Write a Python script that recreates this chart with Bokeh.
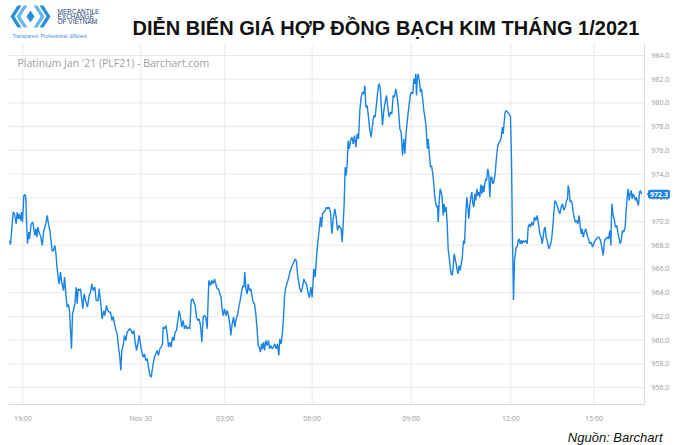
from bokeh.plotting import figure
from bokeh.models import Range1d, FixedTicker, NumeralTickFormatter, Label, PolyAnnotation, LinearAxis
from bokeh.embed import file_html
from bokeh.resources import INLINE

# ---------------- data ----------------
bars = [
    0, 3, 11, 15, 20, 23, 26, 29, 33, 36, 39, 43, 46, 49, 51, 54, 58, 60, 65, 70,
    73, 76, 79, 82, 85, 90, 93, 98, 103, 110, 113, 117, 121, 125, 128, 132, 136, 139, 142, 146,
    149, 153, 156, 159, 162, 165, 169, 173, 177, 180, 183, 186, 189, 193, 196, 200, 203, 206, 210, 213,
    216, 220, 224, 227, 231, 234, 239, 243, 247, 251, 256, 260, 266, 269, 273, 278, 283, 286, 291, 295,
    300,
    303, 307, 311, 315, 319, 323, 327, 331, 334, 337, 341, 345, 349, 353, 357, 361, 365, 369, 373, 377,
    381, 385, 389, 393, 397, 401, 405, 409, 413, 417, 421, 425, 428, 431, 435, 439, 443, 447, 451, 455,
    459, 461, 465, 469, 473, 477, 481, 485, 489, 493, 497, 501, 505, 509, 513, 517, 521, 525, 529, 533,
    537, 541, 545, 549, 553, 557, 561, 565, 569, 573, 577, 581, 585, 589, 593,
    598, 603, 607, 611, 615, 619, 623, 627, 631, 635, 637, 641, 645, 649, 653, 657, 661, 664, 668, 672,
    676, 680, 684, 688, 692, 696, 700, 703, 706, 709, 713, 716, 720, 724, 728, 731, 735, 739, 743, 746,
    749, 753, 756, 759, 762, 765, 769, 773, 777, 780, 784, 788, 792, 796, 800, 804, 808, 811, 815, 819,
    822, 825, 828, 832, 835, 838, 841, 845, 848, 851, 855, 858, 861, 864, 867, 871, 875, 879, 883, 887,
    891, 895, 899,
    900, 904, 908, 911, 913, 917, 921, 925, 929, 933, 936, 939, 943, 947, 951, 955, 959, 963, 967, 971,
    976, 980, 984, 988, 992, 995, 998, 1001, 1004, 1007, 1010, 1013, 1016, 1019, 1023, 1027, 1031, 1035, 1039, 1043,
    1047, 1051, 1055, 1059, 1063, 1066, 1069, 1073, 1077, 1081, 1085, 1089, 1093, 1097, 1101, 1104, 1108, 1112, 1115, 1119,
    1123, 1127, 1131, 1135, 1139, 1143, 1147, 1151, 1155, 1159, 1163, 1167, 1171, 1175, 1179, 1183, 1186, 1190, 1194, 1198,
    1203,
    1207, 1210, 1213, 1216, 1219, 1221, 1223, 1226, 1230, 1233, 1236, 1240, 1243, 1246, 1249, 1252, 1254, 1256, 1259, 1263,
    1266, 1269, 1272, 1275, 1279, 1282, 1284, 1286, 1289, 1292, 1295, 1298, 1301, 1304, 1307, 1310, 1313, 1316, 1319, 1322,
    1325, 1328, 1331, 1334, 1337, 1340, 1343, 1346, 1349, 1352, 1355, 1358, 1362, 1365, 1369, 1372, 1375, 1378, 1381, 1384,
    1387, 1390, 1393, 1396, 1399, 1402, 1405, 1408, 1411, 1414, 1417, 1420, 1423, 1426, 1429, 1431, 1435, 1438, 1441, 1444,
    1447, 1450, 1453, 1457, 1461, 1465, 1469, 1473, 1475, 1479, 1481, 1484, 1487, 1491, 1494, 1498, 1501,
    1503, 1506, 1509, 1512, 1515, 1517, 1520, 1523, 1526, 1529, 1532, 1535, 1538, 1541, 1545, 1549, 1553, 1556, 1560, 1563,
    1567, 1571, 1575, 1579, 1583, 1587, 1591, 1595, 1598, 1601, 1604, 1607, 1610, 1614, 1618, 1622, 1626, 1629, 1633, 1636,
    1639, 1643, 1647, 1651, 1655, 1659, 1663, 1667, 1671, 1674, 1676, 1679, 1682, 1685, 1688, 1691, 1694, 1697, 1701, 1705,
    1709, 1712, 1715, 1718, 1721, 1725, 1729, 1733, 1737, 1741, 1745, 1749, 1753, 1757, 1761, 1765, 1769, 1773, 1777, 1781,
    1785, 1789, 1793, 1797, 1801, 1804, 1807, 1811, 1814, 1818, 1822, 1825, 1829, 1832, 1835, 1839, 1843, 1847, 1850, 1853,
    1856, 1859, 1862, 1865, 1868, 1871, 1875, 1878, 1881, 1884, 1887, 1890, 1893, 1896,
]

prices = [
    968.40, 968.06, 970.79, 970.65, 969.80, 970.79, 970.22, 970.65, 970.08, 970.79, 969.94, 972.19, 972.28, 972.05, 970.08, 968.12, 969.10, 968.54, 969.80, 969.94,
    969.38, 968.82, 969.38, 968.68, 969.52, 968.96, 968.82, 967.98, 969.24, 969.94, 970.51, 969.80, 969.24, 968.26, 967.50, 967.55, 967.98, 967.41, 966.29, 965.31,
    964.74, 965.73, 965.02, 964.60, 964.18, 965.31, 963.90, 962.78, 963.00, 962.49, 960.81, 959.26, 962.21, 962.64, 963.06, 964.46, 963.06, 964.32, 964.18, 964.32,
    963.62, 962.64, 963.90, 963.48, 963.06, 962.78, 963.76, 964.04, 964.74, 964.18, 964.46, 963.34, 963.34, 964.32, 963.34, 961.79, 962.49, 962.07, 962.92, 962.49,
    962.35,
    962.35, 961.65, 961.99, 961.37, 960.81, 960.53, 959.40, 958.56, 957.43, 959.12, 959.54, 960.39, 959.96, 960.67, 960.81, 960.95, 960.81, 960.53, 960.81, 959.82,
    959.12, 959.68, 960.39, 959.68, 958.98, 958.56, 958.84, 958.28, 958.42, 957.71, 957.01, 956.87, 957.43, 957.99, 958.56, 958.84, 959.12, 958.70, 959.26, 959.40,
    959.68, 961.09, 960.95, 961.23, 960.53, 959.40, 959.82, 959.40, 960.25, 959.96, 960.67, 960.81, 961.65, 962.49, 961.93, 961.09, 961.65, 960.95, 961.23, 960.95,
    961.09, 960.95, 963.34, 963.48, 963.20, 962.92, 961.93, 961.65, 961.79, 961.23, 959.82, 961.93, 962.07, 961.93, 960.95,
    965.02, 964.60, 965.02, 964.74, 965.16, 964.74, 964.32, 964.32, 963.90, 963.62, 962.78, 962.07, 962.63, 962.07, 962.49, 962.07, 961.37, 960.39, 961.37, 961.93,
    961.09, 961.79, 962.07, 962.78, 963.34, 964.04, 964.60, 964.46, 965.73, 964.32, 963.90, 964.74, 964.18, 964.32, 963.62, 963.20, 963.06, 962.21, 960.81, 959.54,
    959.40, 958.98, 959.68, 959.26, 959.82, 959.12, 959.96, 959.54, 959.96, 959.26, 959.54, 959.26, 959.40, 959.68, 959.26, 959.68, 958.70, 960.10, 959.68, 960.67,
    961.93, 963.62, 964.32, 964.74, 965.02, 965.30, 965.73, 966.01, 966.29, 966.43, 966.71, 966.85, 966.57, 965.59, 965.02, 964.32, 964.04, 964.46, 965.16, 964.88,
    964.74, 964.04, 963.62,
    963.62, 964.46, 963.62, 965.02, 966.01, 965.30, 966.99, 968.26, 969.24, 970.37, 969.52, 970.65, 970.79, 970.93, 971.21, 971.07, 971.21, 970.79, 968.96, 970.23,
    971.07, 970.37, 969.24, 969.66, 969.52, 969.38, 968.26, 969.80, 971.49, 974.58, 973.88, 974.86, 976.83, 976.13, 976.83, 977.11, 976.55, 977.25, 976.27, 977.39,
    976.97, 979.36, 980.49, 980.91, 980.77, 981.47, 979.64, 979.78, 978.80, 977.67, 977.11, 978.10, 978.94, 978.80, 979.92, 980.77, 981.61, 981.33, 979.92, 978.10,
    979.36, 980.06, 980.63, 979.64, 978.80, 979.22, 979.08, 980.63, 980.49, 981.19, 980.49, 979.50, 977.81, 977.53, 975.57, 976.97, 975.71, 977.53, 978.66, 979.64,
    980.77,
    980.91, 980.77, 982.03, 981.61, 982.45, 980.63, 981.89, 982.45, 981.75, 980.91, 981.19, 980.20, 979.36, 978.80, 978.24, 976.83, 976.13, 976.97, 975.85, 974.58,
    974.72, 974.16, 973.46, 972.33, 971.49, 971.21, 971.35, 969.94, 971.63, 972.76, 972.48, 972.05, 970.51, 971.49, 970.79, 971.21, 969.80, 967.69, 966.99, 966.15,
    965.59, 965.45, 966.15, 967.27, 966.85, 966.43, 965.87, 965.59, 966.29, 965.87, 966.43, 966.85, 968.40, 968.12, 970.65, 972.05, 971.21, 970.23, 971.35, 972.05,
    972.48, 971.49, 971.21, 972.33, 971.77, 972.76, 972.19, 972.48, 972.05, 973.12, 972.33, 973.04, 972.48, 973.18, 973.60, 973.46, 974.44, 973.88, 972.05, 973.74,
    973.74, 973.18, 973.32, 974.02, 975.43, 976.41, 976.69, 976.83, 977.11, 977.96, 977.39, 978.38, 979.22, 979.36, 979.22, 979.08, 978.94,
    978.86, 975.14, 968.40, 963.39, 966.71, 967.13, 967.84, 967.84, 968.40, 968.54, 968.12, 968.40, 968.12, 968.40, 968.26, 968.40, 968.12, 969.52, 969.80, 969.52,
    969.94, 969.66, 970.37, 970.08, 970.51, 969.80, 968.96, 968.68, 968.12, 968.68, 969.38, 969.52, 968.68, 968.26, 967.70, 967.98, 968.40, 969.24, 970.65, 971.77,
    971.63, 971.35, 970.93, 970.65, 971.21, 971.49, 970.93, 971.21, 971.77, 971.91, 973.04, 972.61, 971.63, 971.77, 971.49, 970.79, 970.37, 969.94, 970.08, 969.80,
    970.51, 969.66, 968.96, 969.38, 968.68, 969.10, 969.38, 968.82, 968.54, 968.12, 968.26, 967.84, 968.12, 968.40, 968.54, 968.68, 968.68, 968.40, 967.84, 967.13,
    968.40, 968.54, 968.68, 968.54, 969.24, 967.98, 971.49, 970.51, 970.23, 969.52, 969.66, 969.10, 968.54, 968.12, 968.40, 969.24, 969.10, 969.52, 970.93, 972.05,
    972.75, 971.77, 972.33, 972.61, 971.91, 972.33, 972.05, 971.77, 972.05, 971.63, 971.35, 972.47, 972.61, 972.30,
]

tick_bars = [40, 394, 646, 908, 1205, 1504, 1754]
tick_labels = ["19:00", "Nov 30", "03:00", "06:00", "09:00", "12:00", "15:00"]
price_ticks = [956, 958, 960, 962, 964, 966, 968, 970, 972, 974, 976, 978, 980, 982, 984]
last_price = 972.3

title_text = "DIỄN BIẾN GIÁ HỢP ĐỒNG BẠCH KIM THÁNG 1/2021"
subtitle_text = "Platinum Jan '21 (PLF21) - Barchart.com"
source_text = "Nguồn: Barchart"
logo_lines = ["MERCANTILE", "EXCHANGE", "OF VIETNAM"]
logo_tagline = "Transparent. Professional. Efficient"

# ---------------- layout helpers (page px -> data) ----------------
W, H = 676, 445
PLOT_L, PLOT_R, PLOT_T, PLOT_B = 8, 644, 44, 404


def bx(px):
    return -3 + (px - 8) * 3


def py(ypx):
    return 984 - (ypx - 55) * 28 / 332


BLUE = "#1a84e5"
GREY_TXT = "#9a9a9a"
GRID = "#e8e8e8"
AXIS = "#dcdcdc"

p = figure(width=W, height=H, output_backend="svg", toolbar_location=None,
           x_range=Range1d(bx(0), bx(W)), y_range=Range1d(py(H), py(0)),
           x_axis_location=None, y_axis_location=None, min_border=0)
p.outline_line_color = None
p.background_fill_color = "white"
p.border_fill_color = "white"
p.xgrid.visible = False
p.ygrid.visible = False

# grid lines (limited to the chart area)
p.segment(x0=[bx(PLOT_L)] * len(price_ticks), x1=[bx(PLOT_R)] * len(price_ticks),
          y0=price_ticks, y1=price_ticks, line_color=GRID, line_width=1)
p.segment(x0=tick_bars, x1=tick_bars, y0=[py(PLOT_T)] * len(tick_bars),
          y1=[py(PLOT_B)] * len(tick_bars), line_color=GRID, line_width=1)

p.line(bars, prices, line_color=BLUE, line_width=1.4)

# axes at fixed locations
xt = FixedTicker(ticks=tick_bars)
yt = FixedTicker(ticks=price_ticks)
xax = LinearAxis(ticker=xt, fixed_location=py(PLOT_B), bounds=(bx(PLOT_L), bx(PLOT_R)),
                 major_label_overrides={b: l for b, l in zip(tick_bars, tick_labels)})
yax = LinearAxis(ticker=yt, fixed_location=bx(PLOT_R), bounds=(py(PLOT_B), py(PLOT_T)),
                 formatter=NumeralTickFormatter(format="0.0"))
for ax in (xax, yax):
    ax.axis_line_color = AXIS
    ax.axis_line_width = 1
    ax.major_tick_line_color = None
    ax.minor_tick_line_color = None
    ax.major_tick_out = 0
    ax.major_tick_in = 0
    ax.major_label_text_font = "Open Sans"
    ax.major_label_text_font_size = "7px"
    ax.major_label_text_color = GREY_TXT
yax.major_label_standoff = 7
xax.major_label_standoff = 9
p.add_layout(xax, "below")
p.add_layout(yax, "right")

# texts
p.add_layout(Label(x=bx(132), y=py(27.5), text=title_text, text_font="Liberation Sans",
                   text_font_style="bold", text_font_size="20px", text_color="#111111",
                   text_baseline="alphabetic"))
p.add_layout(Label(x=bx(17), y=py(62.5), text=subtitle_text, text_font="Open Sans",
                   text_font_size="10.5px", text_color="#a0a0a0", text_baseline="alphabetic"))
p.add_layout(Label(x=bx(662), y=py(437), text=source_text, text_font="Liberation Sans",
                   text_font_style="italic", text_font_size="13px", text_color="#111111",
                   text_align="right", text_baseline="alphabetic"))

# last value marker
p.add_layout(PolyAnnotation(xs=[bx(646), bx(650), bx(650)],
                            ys=[last_price, py(190.5), py(196.5)],
                            fill_color=BLUE, fill_alpha=1, line_color=None))
p.add_layout(Label(x=bx(658.5), y=last_price, text="972.3", text_align="center",
                   text_baseline="middle", text_font="Open Sans", text_font_style="bold",
                   text_font_size="7px", text_color="white",
                   background_fill_color=BLUE, background_fill_alpha=1,
                   border_radius=2, padding=2))

# logo
for i, t in enumerate(logo_lines):
    p.add_layout(Label(x=bx(57), y=py(10.5 + 5.4 * i), text=t, text_font="Liberation Sans",
                       text_font_size="6.5px", text_color="#1d3f73", text_baseline="alphabetic"))
p.add_layout(Label(x=bx(12), y=py(35.5), text=logo_tagline, text_font="Liberation Sans",
                   text_font_size="4.8px", text_color="#3b8fd6", text_baseline="alphabetic"))

chevrons = [
    ([10, 17, 21, 14, 21, 17], [16, 5, 5, 16, 27, 27], "#2b8fd9"),
    ([16, 23, 27, 20, 27, 23], [16, 5, 5, 16, 27, 27], "#6ab8ee"),
    ([50, 43, 39, 46, 39, 43], [16, 5, 5, 16, 27, 27], "#2b8fd9"),
    ([44, 37, 33, 40, 33, 37], [16, 5, 5, 16, 27, 27], "#6ab8ee"),
    ([30, 34, 30, 26], [10, 16, 22, 16], "#2b8fd9"),
]
for xs, ys, c in chevrons:
    p.add_layout(PolyAnnotation(xs=[bx(v) for v in xs], ys=[py(v) for v in ys],
                                fill_color=c, fill_alpha=1, line_color=None))

open("out.html", "w").write(file_html(p, INLINE))
